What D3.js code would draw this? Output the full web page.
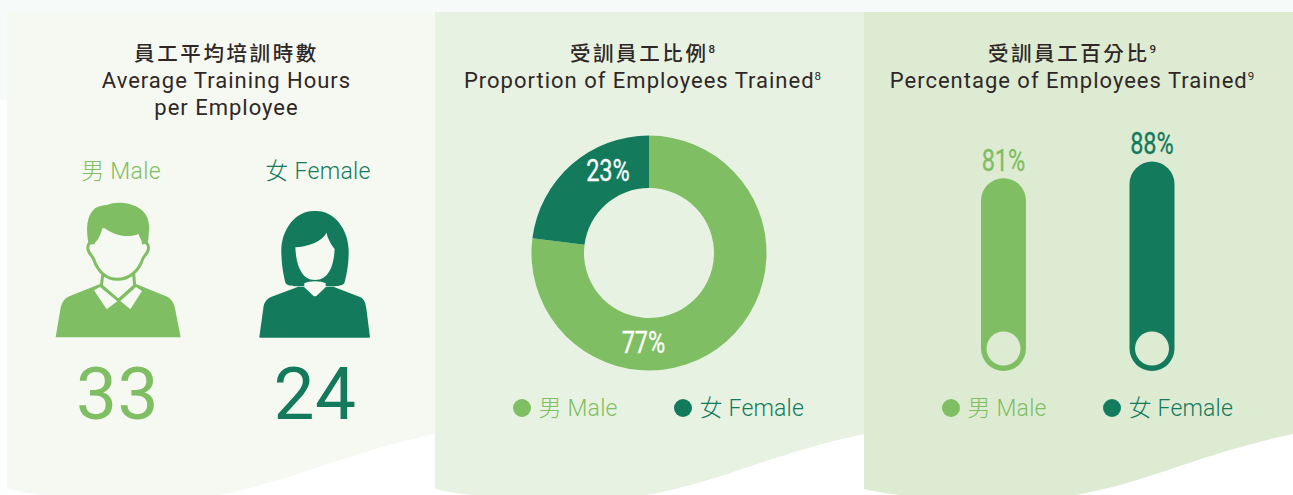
<!DOCTYPE html>
<html><head><meta charset="utf-8">
<script src="https://cdnjs.cloudflare.com/ajax/libs/d3/7.8.5/d3.min.js"></script>
<style>html,body{margin:0;padding:0;background:#fff;overflow:hidden}svg{display:block}
text{font-family:Roboto,"Noto Sans CJK TC",sans-serif}</style></head><body><div id="c"></div>
<script>
const categories = ["男 Male", "女 Female"];
const averageHours = [33, 24];
const proportion = [77, 23];
const percentage = [81, 88];
const titles = [
  ["員工平均培訓時數", "Average Training Hours", "per Employee"],
  ["受訓員工比例", "Proportion of Employees Trained"],
  ["受訓員工百分比", "Percentage of Employees Trained"]
];
const notes = [null, "8", "9"];
const colors = ["#7fbe63", "#137b5c"];
const W = 1293, H = 495;
const svg = d3.select("#c").append("svg").attr("width", W).attr("height", H);
// page wash
svg.append("rect").attr("width", W).attr("height", 12).attr("fill", "#f6faf9");
svg.append("rect").attr("y", 12).attr("width", 7).attr("height", 88).attr("fill", "#f6faf9");
svg.append("rect").attr("y", 100).attr("width", 7).attr("height", 395).attr("fill", "#fcfdfd");
// panels with wavy bottoms
const panelFill = ["#f5f9f1", "#e8f2e2", "#deebd3"];
const panelX = [7, 435, 864];
const panelW = [428, 429, 429];
panelX.forEach((x, i) => {
  const w = panelW[i], r = x + w;
  svg.append("path").attr("fill", panelFill[i])
    .attr("d", `M${x} 12H${r}V434C${r-100} 455 ${r-160} 490 ${r-240} 498C${r-290} 503 ${x+40} 499 ${x} 489Z`);
});
// titles
const cx = [226.5, 642.5, 1072];
titles.forEach((t, i) => {
  t.forEach((line, j) => {
    const te = svg.append("text").attr("x", cx[i]).attr("y", 61 + j * 27)
      .attr("text-anchor", "middle").attr("fill", "#2f2725")
      .attr("font-size", j === 0 ? 20.5 : 22).attr("letter-spacing", j === 0 ? 2.6 : 1.0)
      .attr("font-weight", j === 0 ? 500 : 400).text(line);
    if (notes[i] && j < 2) te.append("tspan").attr("font-size", 11.5).attr("letter-spacing", 0).attr("dy", -8).text(notes[i]);
  });
});
// panel 1
const p1x = [121, 318];
categories.forEach((c, i) => {
  svg.append("text").attr("x", p1x[i]).attr("y", 179).attr("text-anchor", "middle")
    .attr("fill", colors[i]).attr("font-size", 23).attr("font-weight", 300).attr("letter-spacing", 0.3).text(c);
});
averageHours.forEach((v, i) => {
  svg.append("text").attr("x", [117.5, 315][i]).attr("y", 419).attr("text-anchor", "middle")
    .attr("fill", colors[i]).attr("font-size", 73).attr("font-weight", 400).attr("letter-spacing", 0.5).text(v);
});
// icons (coordinates in a 3x space)
const ic = svg.append("g").attr("transform", "translate(40,190) scale(0.3333)");
const bg1 = panelFill[0];
// male
ic.append("path").attr("fill", colors[0]).attr("d",
 "M47 442L60 365C64 338 72 326 88 319L180 282L288 282L382 320C396 328 403 340 406 360L422 442Z");
ic.append("path").attr("fill", bg1).attr("d", "M162 301L180 291L233 333L200 358Z");
ic.append("path").attr("fill", bg1).attr("d", "M306 303L288 291L241 333L271 358Z");
ic.append("path").attr("fill", bg1).attr("stroke", colors[0]).attr("stroke-width", 9).attr("d",
 "M189 250L184 287L235 331L284 287L281 250Z");
ic.append("path").attr("fill", bg1).attr("stroke", colors[0]).attr("stroke-width", 9).attr("d",
 "M160 158C146 154 140 170 146 184C150 194 158 198 162 210C172 240 195 267 232 268C270 268 296 240 306 212C310 198 318 196 324 182C328 168 322 154 310 158L305 110H165Z");
ic.append("path").attr("fill", colors[0]).attr("d",
 "M146 163C138 120 138 78 165 55C178 47 190 46 202 45C220 36 250 36 275 44C315 56 330 85 327 120C326 135 326 150 322 163C312 162 300 150 296 132C260 146 220 135 188 110C182 140 165 168 146 163Z");
// female
ic.append("path").attr("fill", colors[1]).attr("d",
 "M658 442L670 355C672 335 682 325 695 320L775 290L880 290L962 322C975 330 977 342 979 355L990 440Q990 443 986 443H660Z");
ic.append("path").attr("fill", colors[1]).attr("d",
 "M825 63C770 60 725 115 724 180C724 220 730 255 737 280C745 290 770 290 790 288H860C880 290 905 290 913 280C920 255 927 220 926 180C925 115 880 60 825 63Z");
ic.append("path").attr("fill", bg1).attr("d",
 "M766 172C805 170 845 155 860 128C862 145 875 165 884 177C882 220 870 270 825 270C780 270 768 215 766 172Z");
ic.append("path").attr("fill", bg1).attr("d", "M793 280C805 272 845 272 857 280V292L830 317Q825 320 820 317L793 292Z");
// panel 2: donut
const pie = d3.pie().sort(null).value(d => d);
const arc = d3.arc().innerRadius(65).outerRadius(117.5);
const g2 = svg.append("g").attr("transform", "translate(649,253)");
g2.selectAll("path").data(pie(proportion)).join("path")
  .attr("d", arc).attr("fill", (d, i) => colors[i]);
const pctLabel = (parent, x, y, txt, fill, size) => parent.append("text")
  .attr("transform", `translate(${x},${y}) scale(0.76,1)`).attr("text-anchor", "middle")
  .attr("fill", fill).attr("font-size", size).attr("stroke", fill).attr("stroke-width", 0.3).text(txt);
pctLabel(g2, -5.5, 100, proportion[0] + "%", "#fff", 31);
pctLabel(g2, -41, -72, proportion[1] + "%", "#fff", 31);
// legends
const legX = [[522, 683], [951, 1112]];
legX.forEach(xs => categories.forEach((c, i) => {
  svg.append("circle").attr("cx", xs[i]).attr("cy", 408).attr("r", 9).attr("fill", colors[i]);
  svg.append("text").attr("x", xs[i] + 16.5).attr("y", 415.5).attr("fill", colors[i])
    .attr("font-size", 23).attr("font-weight", 300).attr("letter-spacing", 0.2).text(c);
}));
// panel 3: capsules
const y = d3.scaleLinear().domain([0, 100]).range([371, 133]);
const barX = d3.scalePoint().domain(categories).range([1003.5, 1152]);
const bw = 45;
const labelGap = [7, 7.5];
percentage.forEach((v, i) => {
  const x = barX(categories[i]);
  svg.append("rect").attr("x", x - bw / 2).attr("y", y(v)).attr("width", bw).attr("height", y(0) - y(v))
    .attr("rx", bw / 2).attr("fill", colors[i]);
  svg.append("circle").attr("cx", x).attr("cy", 348.5).attr("r", 17).attr("fill", panelFill[2]);
  pctLabel(svg, x, y(v) - labelGap[i], v + "%", colors[i], 31);
});
</script></body></html>
